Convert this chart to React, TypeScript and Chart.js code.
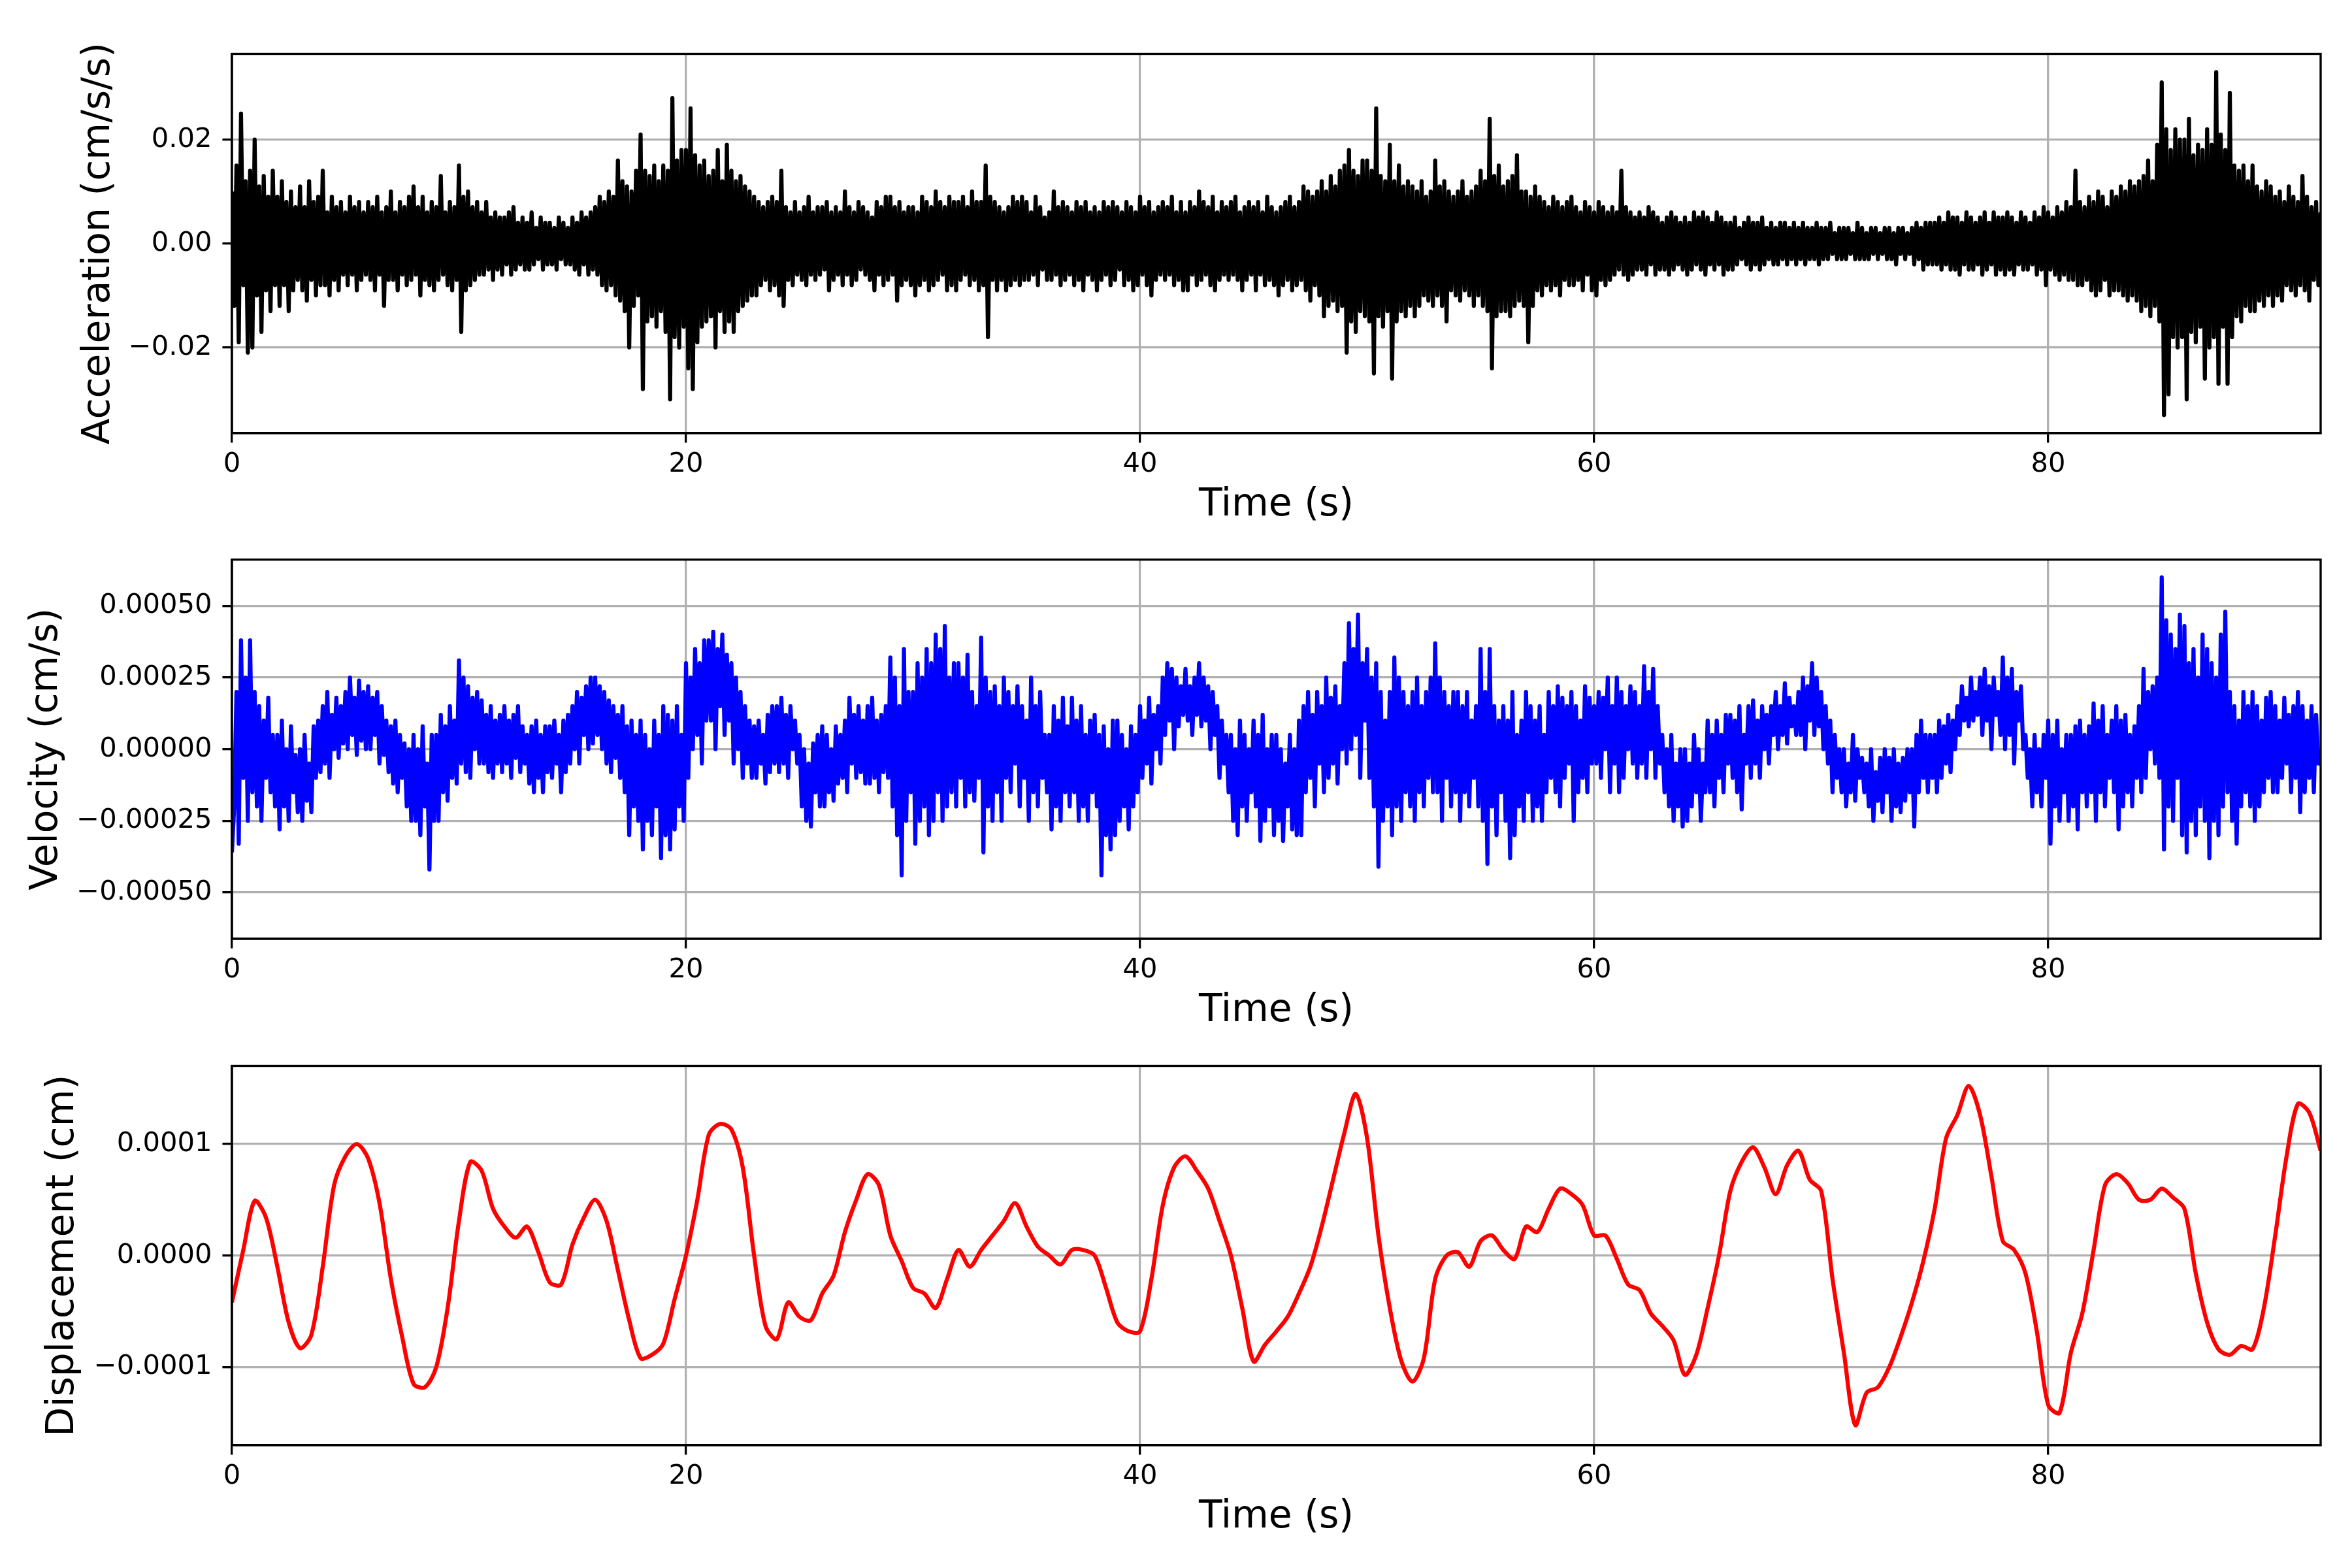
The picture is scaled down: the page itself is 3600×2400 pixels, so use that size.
import React, { useEffect, useRef } from 'react';
import { Chart, registerables } from 'chart.js';

Chart.register(...registerables);

Chart.defaults.font.family = 'DejaVu Sans';
Chart.defaults.color = '#000';

// acceleration in 1e-3 cm/s/s: upper swings at t = 0, 0.2, 0.4 ... and lower swings at t = 0.1, 0.3 ...
const accelUp = [
  10, 15, 25, 12, 14,  20, 11, 13, 9, 14,
  9, 12, 8, 10, 7,  11, 7, 12, 8, 9,
  14, 6, 9, 7, 8,  6, 9, 7, 8, 6,
  8, 7, 9, 6, 7,  10, 6, 8, 7, 9,
  11, 7, 9, 6, 8,  7, 13, 6, 8, 7,
  15, 9, 10, 7, 8,  6, 8, 5, 6, 5,
  5, 6, 7, 4, 5,  4, 6, 3, 5, 4,
  4, 3, 5, 4, 3,  5, 4, 6, 5, 6,
  7, 9, 8, 10, 9,  16, 12, 11, 10, 14,
  21, 14, 13, 15, 12,  15, 14, 28, 16, 18,
  18, 26, 17, 15, 16,  13, 14, 18, 12, 19,
  14, 12, 13, 11, 10,  9, 8, 7, 8, 9,
  8, 14, 7, 6, 8,  6, 7, 9, 6, 7,
  7, 8, 6, 7, 6,  10, 7, 6, 8, 7,
  6, 5, 8, 7, 9,  9, 7, 8, 6, 7,
  7, 6, 9, 8, 7,  10, 8, 7, 9, 8,
  8, 9, 7, 10, 8,  8, 15, 9, 8, 7,
  6, 7, 9, 8, 9,  8, 6, 9, 7, 5,
  6, 10, 7, 8, 7,  6, 8, 7, 8, 6,
  7, 6, 8, 7, 8,  7, 6, 8, 7, 6,
  9, 7, 8, 6, 7,  8, 7, 9, 6, 8,
  6, 8, 7, 10, 8,  7, 9, 6, 8, 7,
  8, 9, 6, 7, 8,  7, 8, 6, 9, 7,
  6, 7, 8, 9, 7,  8, 11, 10, 9, 10,
  12, 10, 13, 11, 14,  15, 18, 14, 13, 16,
  16, 14, 26, 13, 12,  19, 12, 15, 11, 12,
  11, 10, 12, 9, 10,  16, 11, 12, 10, 9,
  10, 12, 9, 10, 11,  14, 12, 24, 13, 15,
  11, 12, 13, 17, 10,  10, 9, 11, 9, 8,
  7, 9, 8, 7, 8,  9, 7, 6, 8, 7,
  6, 8, 7, 6, 7,  6, 14, 7, 6, 5,
  6, 5, 7, 6, 5,  4, 5, 6, 5, 4,
  5, 4, 6, 5, 6,  5, 4, 6, 5, 4,
  4, 5, 3, 4, 5,  4, 4, 5, 3, 4,
  3, 4, 4, 3, 4,  3, 4, 3, 3, 4,
  3, 3, 4, 2, 3,  3, 3, 2, 4, 3,
  2, 3, 3, 2, 3,  3, 2, 3, 3, 2,
  3, 4, 3, 4, 4,  4, 5, 4, 6, 5,
  5, 4, 6, 5, 4,  5, 6, 4, 6, 5,
  5, 6, 5, 4, 6,  5, 4, 6, 5, 7,
  6, 5, 7, 6, 8,  7, 14, 8, 7, 9,
  8, 10, 9, 7, 10,  9, 11, 10, 12, 11,
  12, 13, 16, 12, 19,  31, 22, 18, 22, 20,
  20, 24, 17, 19, 18,  22, 19, 33, 21, 18,
  29, 15, 14, 15, 12,  15, 11, 10, 12, 11,
  9, 10, 8, 11, 9,  8, 13, 9, 7, 8,
  6,
];
const accelDown = [
  -12, -19, -8, -21, -20,  -10, -17, -9, -13, -8,
  -12, -8, -13, -9, -7,  -9, -11, -7, -10, -8,
  -8, -10, -7, -9, -6,  -8, -6, -9, -7, -6,
  -7, -9, -6, -12, -7,  -7, -9, -6, -8, -7,
  -6, -10, -7, -8, -9,  -7, -6, -8, -9, -7,
  -17, -9, -8, -7, -6,  -6, -5, -7, -5, -6,
  -4, -6, -5, -4, -5,  -5, -4, -3, -5, -4,
  -4, -5, -3, -4, -4,  -5, -6, -4, -6, -5,
  -6, -8, -9, -8, -10,  -11, -13, -20, -12, -10,
  -28, -15, -14, -16, -13,  -17, -30, -18, -20, -16,
  -24, -28, -19, -16, -15,  -14, -20, -13, -17, -15,
  -17, -13, -12, -11, -10,  -10, -8, -7, -9, -8,
  -10, -12, -7, -8, -6,  -7, -8, -6, -7, -6,
  -5, -9, -7, -6, -8,  -6, -8, -7, -5, -6,
  -7, -9, -6, -8, -7,  -6, -11, -8, -7, -8,
  -10, -8, -7, -9, -8,  -7, -6, -9, -8, -9,
  -7, -6, -8, -7, -9,  -8, -18, -7, -9, -7,
  -9, -8, -7, -8, -7,  -7, -6, -8, -5, -7,
  -7, -6, -8, -7, -6,  -8, -7, -9, -6, -7,
  -9, -7, -6, -8, -7,  -5, -8, -7, -9, -8,
  -6, -8, -10, -7, -6,  -7, -6, -8, -7, -9,
  -9, -6, -8, -7, -6,  -8, -9, -7, -6, -7,
  -6, -7, -9, -7, -6,  -9, -6, -8, -7, -8,
  -10, -8, -7, -9, -8,  -7, -9, -11, -8, -10,
  -14, -12, -11, -13, -12,  -21, -15, -17, -13, -14,
  -15, -25, -14, -16, -13,  -26, -15, -13, -14, -12,
  -14, -12, -10, -11, -12,  -10, -12, -15, -9, -10,
  -11, -9, -10, -12, -10,  -12, -13, -24, -14, -13,
  -13, -14, -12, -11, -12,  -19, -12, -9, -10, -8,
  -9, -8, -10, -7, -8,  -8, -7, -9, -6, -9,
  -10, -7, -8, -7, -6,  -5, -6, -7, -6, -5,
  -5, -6, -4, -6, -5,  -5, -6, -5, -4, -5,
  -6, -5, -4, -5, -6,  -4, -5, -4, -6, -5,
  -5, -4, -3, -4, -5,  -4, -5, -4, -3, -4,
  -4, -3, -4, -3, -4,  -3, -4, -3, -3, -4,
  -3, -3, -2, -3, -3,  -3, -2, -3, -3, -3,
  -3, -2, -3, -2, -3,  -3, -4, -2, -3, -2,
  -4, -3, -5, -4, -4,  -4, -5, -4, -5, -5,
  -6, -4, -5, -5, -4,  -6, -5, -4, -6, -5,
  -6, -5, -6, -4, -5,  -5, -4, -6, -5, -8,
  -5, -6, -7, -6, -7,  -7, -8, -8, -7, -9,
  -10, -9, -7, -10, -9,  -9, -10, -11, -10, -11,
  -13, -12, -14, -12, -15,  -33, -29, -18, -20, -18,
  -30, -17, -19, -16, -26,  -20, -18, -27, -16, -27,
  -18, -14, -15, -12, -13,  -13, -11, -12, -10, -12,
  -10, -11, -8, -9, -10,  -8, -9, -11, -7, -8,
];

// velocity in 1e-5 cm/s: upper swings at t = 0, 0.2 ... and lower swings at t = 0.1, 0.3 ...
const velocityUp = [
  -36, 20, 38, 25, 38,  20, 15, 10, 18, 5,
  5, 10, 0, 8, -2,  0, 5, -5, 8, 10,
  15, 20, 12, 18, 15,  20, 25, 18, 24, 20,
  22, 18, 20, 15, 10,  8, 10, 5, 2, 0,
  5, 0, 8, -5, 5,  5, 12, 8, 15, 10,
  31, 25, 22, 18, 20,  17, 12, 15, 10, 12,
  15, 10, 12, 15, 8,  5, 8, 10, 5, 8,
  8, 10, 5, 10, 12,  15, 20, 18, 22, 25,
  25, 22, 20, 17, 15,  12, 15, 8, 10, 5,
  10, 5, 0, 10, 5,  15, 12, 10, 15, 5,
  30, 25, 35, 30, 38,  38, 41, 35, 40, 33,
  30, 25, 20, 15, 10,  8, 10, 5, 12, 15,
  15, 18, 12, 15, 10,  5, 0, -5, 2, 5,
  8, 5, 0, 8, 5,  10, 18, 12, 15, 10,
  15, 18, 10, 12, 15,  32, 25, 15, 35, 20,
  20, 30, 25, 35, 30,  40, 35, 43, 25, 30,
  30, 25, 33, 20, 15,  39, 25, 20, 22, 15,
  25, 20, 15, 22, 15,  10, 25, 15, 20, 5,
  5, 15, 10, 18, 8,  18, 10, 15, 5, 10,
  12, 5, 8, 0, 10,  10, 5, 0, 8, 5,
  15, 10, 18, 12, 15,  25, 30, 28, 25, 22,
  28, 22, 25, 30, 25,  22, 20, 15, 10, 5,
  5, 0, 10, 5, 0,  10, 5, 12, 0, 5,
  5, 0, -5, 5, 0,  10, 15, 20, 12, 20,
  15, 25, 18, 22, 15,  30, 44, 35, 47, 30,
  35, 25, 30, 20, 10,  20, 32, 25, 20, 15,
  20, 25, 15, 20, 25,  37, 25, 20, 15, 20,
  20, 15, 20, 10, 15,  35, 20, 35, 15, 10,
  15, 10, 20, 5, 10,  20, 15, 10, 15, 5,
  20, 15, 22, 18, 15,  20, 15, 10, 22, 18,
  15, 20, 18, 25, 15,  25, 20, 15, 22, 20,
  15, 29, 20, 28, 15,  5, 0, 5, -5, 0,
  0, -5, 5, 0, -5,  10, 5, 10, 5, 12,
  12, 10, 15, 5, 15,  17, 10, 15, 12, 15,
  20, 15, 23, 18, 15,  20, 25, 22, 30, 25,
  20, 15, 10, 5, 0,  0, -5, 5, 0, -3,
  -5, 0, -8, -3, 0,  -3, 0, -5, -3, 0,
  0, 5, 10, 5, 5,  5, 10, 8, 12, 10,
  15, 22, 18, 25, 20,  25, 28, 22, 25, 20,
  32, 25, 28, 20, 22,  5, 0, 5, 0, 5,
  10, 5, 10, 0, 5,  5, 8, 10, 5, 8,
  16, 10, 15, 5, 10,  15, 10, 12, 5, 8,
  15, 28, 20, 22, 25,  60, 45, 40, 35, 47,
  43, 30, 35, 25, 40,  35, 30, 25, 40, 48,
  20, 15, 10, 20, 15,  20, 15, 10, 18, 20,
  15, 10, 18, 12, 15,  20, 15, 10, 15, 12,
  -5,
];
const velocityDown = [
  -20, -33, -10, -25, -15,  -20, -25, -10, -15, -20,
  -28, -20, -25, -15, -22,  -25, -18, -22, -10, -8,
  -5, -10, 0, -3, 2,  0, 5, -2, 3, 0,
  0, 5, -5, -2, -8,  -12, -15, -10, -20, -25,
  -25, -30, -20, -42, -25,  -25, -15, -18, -10, -12,
  -5, -8, -10, 0, -5,  -5, -8, -10, -5, -8,
  -5, -10, -3, -8, -5,  -12, -15, -10, -15, -8,
  -10, -5, -15, -8, -5,  0, -5, 5, 0, 2,
  5, 0, -5, -8, -3,  -10, -15, -30, -20, -25,
  -35, -25, -30, -20, -38,  -30, -35, -28, -20, -25,
  -10, 0, 5, -5, 10,  10, 0, 15, 5, 10,
  -5, 0, -10, -5, -10,  -10, -5, -12, -8, -5,
  -8, -5, -10, 0, -5,  -20, -25, -27, -15, -20,
  -20, -15, -18, -12, -10,  -15, -5, -10, -8, -12,
  -12, -10, -15, -8, -10,  -20, -30, -44, -25, -15,
  -33, -25, -20, -30, -25,  -15, -25, -20, -15, -20,
  -10, -20, -15, -18, -10,  -36, -20, -25, -15, -25,
  -10, -15, -5, -20, -10,  -25, -15, -20, -10, -15,
  -28, -20, -25, -15, -20,  -15, -25, -20, -25, -15,
  -20, -44, -30, -35, -30,  -25, -20, -28, -20, -15,
  -10, -5, -12, 0, -5,  5, 10, 0, 8, 12,
  10, 5, 12, 8, 10,  0, 5, -10, -5, -15,
  -25, -30, -20, -25, -15,  -20, -32, -25, -20, -30,
  -25, -32, -20, -28, -30,  -30, -15, -10, -20, -5,
  -15, -10, -5, -12, 0,  -5, 0, 5, -10, 10,
  -10, -20, -41, -25, -20,  -30, -20, -25, -15, -20,
  -25, -15, -20, -10, -15,  -15, -25, -10, -20, -15,
  -25, -15, -20, -10, -20,  -25, -40, -20, -30, -15,
  -25, -38, -30, -20, -25,  -15, -25, -20, -25, -15,
  -10, -15, -20, -10, -5,  -25, -15, -10, -15, -5,
  -5, -10, 0, -15, -5,  -15, -10, 0, -5, -10,
  -5, -10, 0, -10, -5,  -15, -20, -25, -20, -27,
  -25, -20, -15, -25, -15,  -15, -20, -10, -15, -5,
  -10, -15, -21, -5, -10,  -5, -10, 0, -5, 5,
  0, 5, 2, 8, 5,  5, 0, 10, 5, 8,
  0, -5, -15, -10, -15,  -20, -15, -18, -10, -15,
  -20, -25, -18, -22, -15,  -25, -20, -22, -18, -15,
  -27, -15, -10, -15, -10,  -15, -10, -5, -8, 0,
  5, 10, 8, 10, 12,  5, 10, 0, 12, 5,
  0, 5, -5, 10, 0,  -10, -20, -15, -20, -10,
  -33, -20, -25, -15, -25,  -20, -28, -15, -20, -15,
  -25, -15, -20, -10, -15,  -28, -20, -15, -20, -10,
  -15, -10, 0, -5, -10,  -35, -20, -25, -10, -30,
  -36, -25, -30, -20, -25,  -38, -25, -30, -20, -15,
  -25, -33, -20, -15, -20,  -25, -20, -15, -10, -15,
  -15, -10, -5, -15, -10,  -22, -15, -10, -15, -5,
];

// displacement, every 0.5 s, in 1e-4 cm
const displacementRaw = [
  -0.42, 0.05, 0.49, 0.34, -0.10, -0.60, -0.83, -0.71, -0.10, 0.63,
  0.89, 1.00, 0.87, 0.47, -0.21, -0.73, -1.15, -1.18, -1.00, -0.47,
  0.31, 0.84, 0.76, 0.42, 0.26, 0.16, 0.26, 0.03, -0.24, -0.26,
  0.10, 0.34, 0.50, 0.31, -0.13, -0.58, -0.92, -0.89, -0.79, -0.39,
  0.00, 0.50, 1.08, 1.18, 1.13, 0.79, 0.00, -0.63, -0.75, -0.42,
  -0.55, -0.58, -0.34, -0.18, 0.21, 0.50, 0.73, 0.63, 0.18, -0.05,
  -0.29, -0.34, -0.47, -0.21, 0.05, -0.10, 0.05, 0.18, 0.31, 0.47,
  0.26, 0.08, 0.00, -0.08, 0.05, 0.05, 0.00, -0.29, -0.60, -0.68,
  -0.68, -0.21, 0.45, 0.79, 0.89, 0.76, 0.60, 0.31, 0.00, -0.47,
  -0.95, -0.80, -0.68, -0.55, -0.34, -0.10, 0.26, 0.68, 1.10, 1.45,
  1.05, 0.18, -0.47, -0.94, -1.13, -0.92, -0.21, 0.00, 0.03, -0.10,
  0.13, 0.18, 0.05, -0.03, 0.26, 0.21, 0.42, 0.60, 0.55, 0.45,
  0.18, 0.18, -0.03, -0.26, -0.31, -0.52, -0.63, -0.76, -1.07, -0.89,
  -0.47, 0.00, 0.58, 0.84, 0.97, 0.79, 0.55, 0.81, 0.94, 0.68,
  0.58, -0.21, -0.87, -1.52, -1.23, -1.18, -1.00, -0.73, -0.42, -0.05,
  0.42, 1.05, 1.26, 1.52, 1.26, 0.71, 0.13, 0.05, -0.16, -0.68,
  -1.34, -1.41, -0.87, -0.52, 0.05, 0.63, 0.73, 0.65, 0.50, 0.50,
  0.60, 0.52, 0.42, -0.16, -0.60, -0.84, -0.89, -0.81, -0.84, -0.47,
  0.18, 0.89, 1.36, 1.28, 0.94,
];

const xTicks = [0, 20, 40, 60, 80];
const accelTicks = [-0.02, 0, 0.02];
const accelTickLabels = ['\u22120.02', '0.00', '0.02'];
const velocityTicks = [-0.0005, -0.00025, 0, 0.00025, 0.0005];
const velocityTickLabels = ['\u22120.00050', '\u22120.00025', '0.00000', '0.00025', '0.00050'];
const displacementTicks = [-0.0001, 0, 0.0001];
const displacementTickLabels = ['\u22120.0001', '0.0000', '0.0001'];

// merge upper and lower swings into one time series
const interleave = (up: number[], down: number[], dt: number, unit: number) => {
  const pts: { x: number; y: number }[] = [];
  up.forEach((u, i) => {
    pts.push({ x: i * dt, y: u * unit });
    if (i < down.length) pts.push({ x: i * dt + dt / 2, y: down[i] * unit });
  });
  return pts;
};

const accelPoints = interleave(accelUp, accelDown, 0.2, 1e-3);
const velocityPoints = interleave(velocityUp, velocityDown, 0.2, 1e-5);
const displacementPoints = displacementRaw.map((v, i) => ({ x: i * 0.5, y: v * 1e-4 }));

const PT = 300 / 72; // matplotlib points at 300 dpi
const W = 3600;
const H = 820;

// top and right spines
const framePlugin = {
  id: 'frame',
  afterDraw(chart: any) {
    const { ctx, chartArea: a } = chart;
    ctx.save();
    ctx.strokeStyle = '#000';
    ctx.lineWidth = 0.8 * PT;
    ctx.strokeRect(a.left, a.top, a.right - a.left, a.bottom - a.top);
    ctx.restore();
  },
};

type PanelProps = {
  top: number;
  points: { x: number; y: number }[];
  color: string;
  yMin: number;
  yMax: number;
  yTicks: number[];
  yLabels: string[];
  yTitle: string;
  titleOffset: number;
  tension: number;
};

const Panel = (p: PanelProps) => {
  const ref = useRef<HTMLCanvasElement>(null);

  useEffect(() => {
    if (!ref.current) return;
    const tickFont = { size: 10 * PT, lineHeight: 1.2 };
    const titleFont = { size: 14 * PT, lineHeight: 1.2 };
    const grid = {
      color: '#b0b0b0',
      lineWidth: 0.8 * PT,
      tickLength: 3.5 * PT,
      tickColor: '#000',
      tickWidth: 0.8 * PT,
    };
    const border = { display: true, color: '#000', width: 0.8 * PT };

    const chart = new Chart(ref.current, {
      type: 'line',
      data: {
        datasets: [
          {
            data: p.points,
            borderColor: p.color,
            borderWidth: 1.5 * PT,
            borderJoinStyle: 'round',
            pointRadius: 0,
            fill: false,
            tension: p.tension,
          },
        ],
      },
      options: {
        responsive: false,
        animation: false,
        devicePixelRatio: 1,
        parsing: false,
        layout: { padding: { top: 82.5, right: 48, left: 0, bottom: 0 } },
        plugins: { legend: { display: false }, tooltip: { enabled: false } },
        scales: {
          x: {
            type: 'linear',
            min: 0,
            max: 92,
            afterBuildTicks: (s: any) => {
              s.ticks = xTicks.map((v) => ({ value: v }));
            },
            afterFit: (s: any) => {
              s.height = H - 663;
            },
            ticks: { font: tickFont, color: '#000', padding: 9, maxRotation: 0, autoSkip: false },
            grid,
            border,
            title: {
              display: true,
              text: 'Time (s)',
              font: titleFont,
              color: '#000',
              padding: { top: 0, bottom: 11 },
            },
          },
          y: {
            type: 'linear',
            min: p.yMin,
            max: p.yMax,
            afterBuildTicks: (s: any) => {
              s.ticks = p.yTicks.map((v) => ({ value: v }));
            },
            afterFit: (s: any) => {
              s.width = 355;
            },
            ticks: {
              font: tickFont,
              color: '#000',
              padding: 16,
              autoSkip: false,
              callback: (_v: any, i: number) => p.yLabels[i],
            },
            grid,
            border,
            title: {
              display: true,
              text: p.yTitle,
              font: titleFont,
              color: '#000',
              padding: { top: p.titleOffset, bottom: 0 },
            },
          },
        },
      },
      plugins: [framePlugin],
    });

    return () => {
      chart.destroy();
    };
  }, []);

  return (
    <canvas
      ref={ref}
      width={W}
      height={H}
      style={{ position: 'absolute', left: 0, top: p.top, width: W, height: H }}
    />
  );
};

const App = () => {
  useEffect(() => {
    document.body.style.margin = '0';
    document.body.style.background = '#fff';
  }, []);

  return (
    <div style={{ position: 'relative', width: 3600, height: 2400, background: '#fff', overflow: 'hidden' }}>
      <Panel
        top={0}
        points={accelPoints}
        color="#000000"
        yMin={-0.0365}
        yMax={0.0365}
        yTicks={accelTicks}
        yLabels={accelTickLabels}
        yTitle="Acceleration (cm/s/s)"
        titleOffset={117}
        tension={0}
      />
      <Panel
        top={773.5}
        points={velocityPoints}
        color="#0000ff"
        yMin={-0.000662}
        yMax={0.000662}
        yTicks={velocityTicks}
        yLabels={velocityTickLabels}
        yTitle="Velocity (cm/s)"
        titleOffset={37}
        tension={0}
      />
      <Panel
        top={1548.5}
        points={displacementPoints}
        color="#ff0000"
        yMin={-0.000170}
        yMax={0.000170}
        yTicks={displacementTicks}
        yLabels={displacementTickLabels}
        yTitle="Displacement (cm)"
        titleOffset={62}
        tension={0.3}
      />
    </div>
  );
};

export default App;
